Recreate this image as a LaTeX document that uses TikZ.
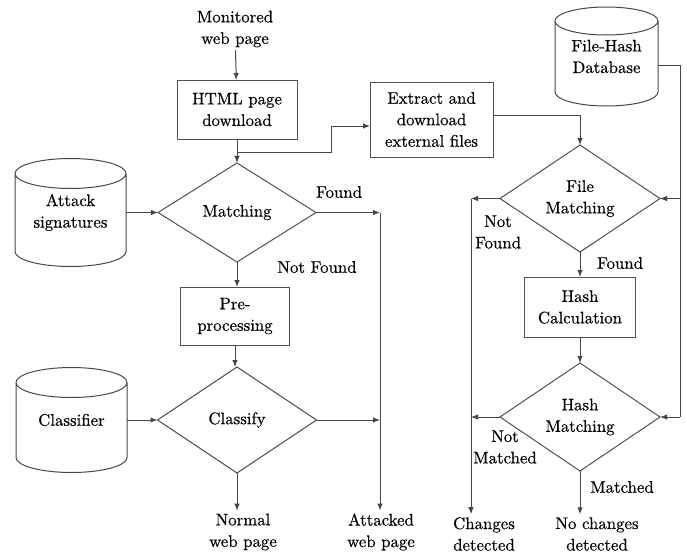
\documentclass[tikz,border=0pt]{standalone}
\usepackage{fontspec}
\setmainfont{lmroman10-regular}[Extension=.otf, FakeBold=0.4]
\usetikzlibrary{shapes.geometric,arrows.meta}
\definecolor{linec}{gray}{0.28}
\definecolor{boxc}{gray}{0.32}
% database can drawn around a named node: node, half width, ellipse y radius
\newcommand\drawcan[3]{%
  \draw[edge] ([yshift=-#3]#1.north west) -- ([yshift=#3]#1.south west)
    arc[start angle=180,end angle=360,x radius=#2,y radius=#3]
    -- ([yshift=-#3]#1.north east)
    arc[start angle=0,end angle=180,x radius=#2,y radius=#3]
    arc[start angle=180,end angle=360,x radius=#2,y radius=#3];}
\begin{document}
\begin{tikzpicture}[x=1pt,y=-1pt,
  txt/.style={font=\fontsize{16.8}{21.5}\selectfont, align=center, inner sep=0pt, outer sep=0pt},
  edge/.style={draw=linec, line width=1pt},
  flow/.style={edge, -{Latex[length=7pt,width=5.5pt]}},
  box/.style={txt, rectangle, draw=boxc, line width=1pt},
  decision/.style={txt, diamond, draw=boxc, line width=1pt},
  store/.style={txt, rectangle},
  term/.style={txt, inner sep=3pt},
  lbl/.style={txt}]
\useasboundingbox (0,0) rectangle (687,554);

% left column
\node[term] (mon) at (235,29) {Monitored\\web page};
\node[box, minimum width=120pt, minimum height=59pt] (html) at (237,109.5) {HTML page\\download};
\node[decision, minimum width=158pt, minimum height=99pt] (match) at (237,212.5) {Matching};
\node[box, minimum width=109pt, minimum height=58pt] (pre) at (235,316) {Pre-\\processing};
\node[decision, minimum width=159pt, minimum height=106pt] (cls) at (237,420) {Classify};
\node[term] (normal) at (243,532) {Normal\\web page};
\node[term] (attacked) at (381,532) {Attacked\\web page};

% databases
\node[store, minimum width=111pt, minimum height=108pt] (att) at (70.5,212.5) {Attack\\signatures};
\drawcan{att}{55.5pt}{15pt}
\node[store, minimum width=111pt, minimum height=105pt] (clsdb) at (71.5,420) {Classifier};
\drawcan{clsdb}{55.5pt}{15pt}
\node[store, minimum width=103pt, minimum height=99pt] (fh) at (606.5,56.5) {File-Hash\\Database};
\drawcan{fh}{51.5pt}{14pt}

% right column
\node[box, minimum width=123pt, minimum height=75pt] (extract) at (431.5,119.5) {Extract and\\download\\external files};
\node[decision, minimum width=160pt, minimum height=107pt] (fm) at (580,198.5) {File\\Matching};
\node[box, minimum width=111pt, minimum height=60pt] (hc) at (580,307) {Hash\\Calculation};
\node[decision, minimum width=160pt, minimum height=108pt] (hm) at (580,417) {Hash\\Matching};
\node[term] (changes) at (484,534) {Changes\\detected};
\node[term] (nochanges) at (597,534) {No changes\\detected};

% bends and buses
\coordinate (split) at (237,152);
\coordinate (bend) at (331,126);
\coordinate (busA) at (380,212.5);
\coordinate (busL) at (471,198.5);
\coordinate (busR) at (680,65);

% connectors, left part
\draw[flow] (mon) -- (html);
\draw[flow] (html) -- (match);
\draw[flow] (split) -| (bend) -- (bend -| extract.west);
\draw[flow] (att) -- (match);
\draw[flow] (match) -- (busA);
\draw[flow] (busA) -- (busA |- attacked.north);
\draw[flow] (match) -- (match |- pre.north);
\draw[flow] (pre) -- (pre |- cls.north);
\draw[flow] (clsdb) -- (cls);
\draw[flow] (cls) -- (cls -| busA);
\draw[flow] (cls) -- (cls |- normal.north);

% connectors, right part
\draw[flow] ([yshift=4.5pt]extract.east) -| (fm);
\draw[edge] (fh.east |- busR) -- (busR) -- (busR |- hm.east);
\draw[flow] (busR |- fm.east) -- (fm.east);
\draw[flow] (busR |- hm.east) -- (hm.east);
\draw[flow] (fm) -- (busL);
\draw[flow] (busL) -- (busL |- changes.north);
\draw[flow] (hm) -- (hm -| busL);
\draw[flow] (fm) -- (hc);
\draw[flow] (hc) -- (hm);
\draw[flow] (hm) -- (hm |- nochanges.north);

% branch labels
\node[lbl] (lfound) at (339,192) {Found};
\node[lbl] (lnotfound) at (317,267) {Not Found};
\node[lbl] (lfmnot) at (498,232) {Not\\Found};
\node[lbl] (lfmfound) at (620,263) {Found};
\node[lbl] (lhmnot) at (505,447) {Not\\Matched};
\node[lbl] (lhmmatch) at (622,487) {Matched};
\end{tikzpicture}
\end{document}
